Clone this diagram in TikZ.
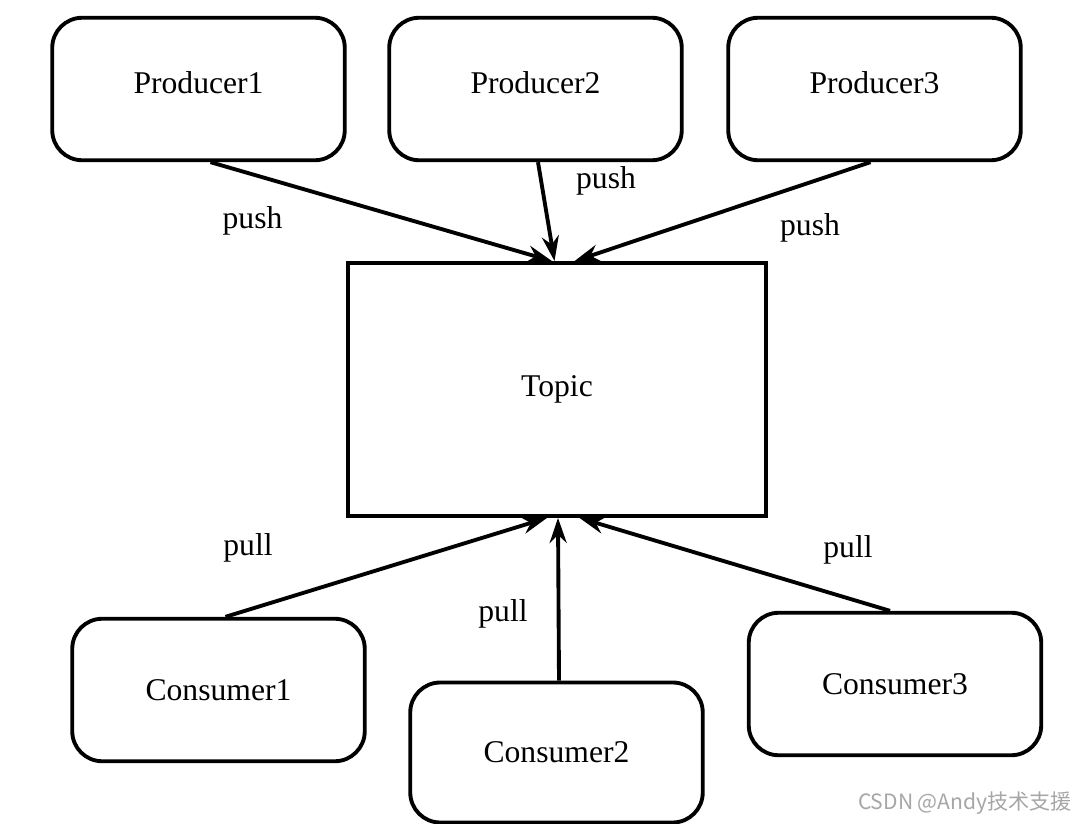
\documentclass[tikz,border=0pt]{standalone}
\usepackage{fontspec}
\setmainfont{Liberation Serif}
\newfontfamily\cjk{Noto Sans CJK SC}
\usetikzlibrary{arrows.meta,calc}

\begin{document}
\begin{tikzpicture}[
  box/.style={draw,line width=2.2pt,rounded corners=0.6cm,minimum width=5.85cm,minimum height=2.85cm,font=\fontsize{18}{21}\selectfont},
  link/.style={line width=2.2pt,-{Stealth[length=0.5cm,width=0.34cm]}},
  lbl/.style={font=\fontsize{18}{21}\selectfont}
]
\useasboundingbox (0,0) rectangle (21.64,-16.48);
% producers
\node[box,text depth=0.25cm] (P1) at (3.97,-1.78) {Producer1};
\node[box,text depth=0.25cm] (P2) at (10.71,-1.78) {Producer2};
\node[box,text depth=0.25cm] (P3) at (17.49,-1.78) {Producer3};
% topic
\node[draw,rectangle,line width=2.2pt,minimum width=8.36cm,minimum height=5.06cm,font=\fontsize{18}{21}\selectfont] (Topic) at (11.14,-7.79) {Topic};
% consumers
\node[box] (C1) at (4.37,-13.80) {Consumer1};
\node[box,minimum height=2.8cm] (C2) at (11.13,-15.05) {Consumer2};
\node[box] (C3) at (17.90,-13.68) {Consumer3};
% push
\draw[link] ($(P1.south)+(0.24,0)$) -- ($(Topic.north)+(-0.1,0)$);
\draw[link] ($(P2.south)+(0.05,0)$) -- ($(Topic.north)+(-0.05,0)$);
\draw[link] ($(P3.south)+(-0.08,0)$) -- ($(Topic.north)+(0.35,0)$);
\node[lbl] (push1) at (5.05,-4.42) {push};
\node[lbl] (push2) at (12.12,-3.62) {push};
\node[lbl] (push3) at (16.2,-4.56) {push};
% pull
\draw[link] ($(C1.north)+(0.14,0)$) -- ($(Topic.south)+(-0.2,0)$);
\draw[link] ($(C2.north)+(0.05,0)$) -- ($(Topic.south)+(0.02,0)$);
\draw[link] ($(C3.north)+(-0.1,0)$) -- ($(Topic.south)+(0.45,0)$);
\node[lbl] (pull1) at (4.96,-10.96) {pull};
\node[lbl] (pull2) at (10.06,-12.28) {pull};
\node[lbl] (pull3) at (16.96,-11.0) {pull};
% watermark
\node[text=gray!70,font=\cjk\fontsize{12}{14}\selectfont] (wm) at (19.3,-16.06) {CSDN @Andy技术支援};
\end{tikzpicture}
\end{document}
